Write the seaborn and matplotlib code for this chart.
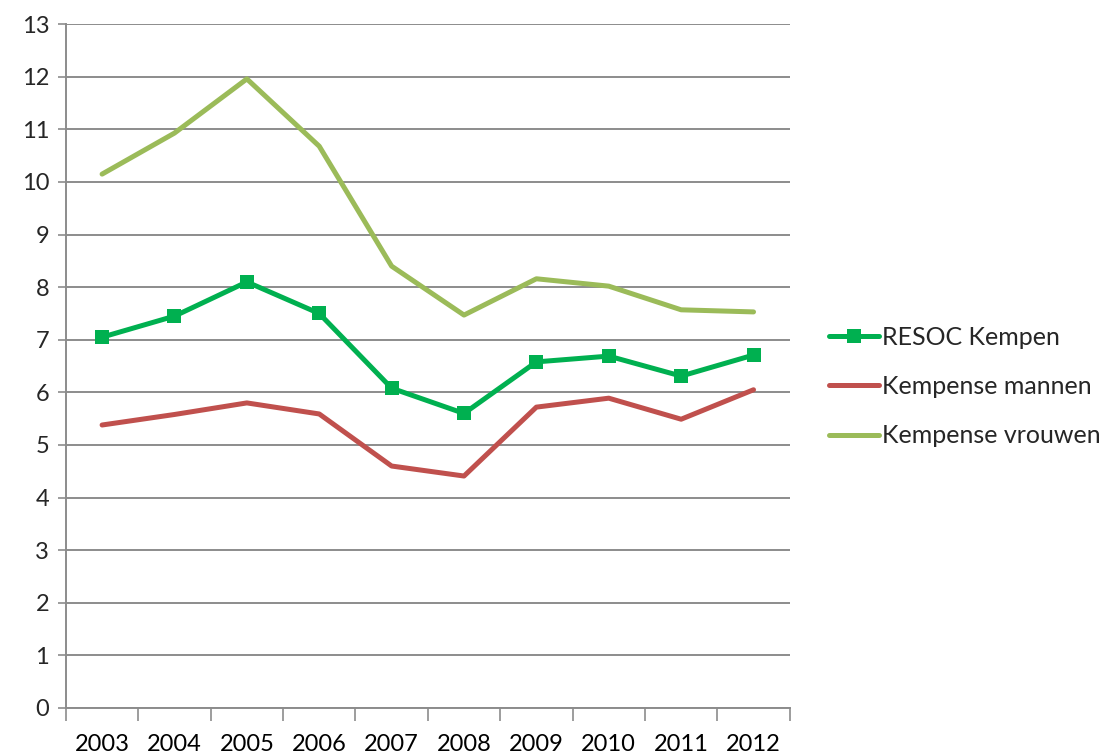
import numpy as np
import pandas as pd
import seaborn as sns
import matplotlib.pyplot as plt
from matplotlib.ticker import FixedLocator, MultipleLocator

years = ['2003', '2004', '2005', '2006', '2007', '2008', '2009', '2010', '2011', '2012']
resoc = [7.05, 7.45, 8.1, 7.5, 6.08, 5.6, 6.58, 6.69, 6.31, 6.71]
mannen = [5.38, 5.58, 5.8, 5.59, 4.6, 4.41, 5.72, 5.89, 5.49, 6.05]
vrouwen = [10.15, 10.93, 11.96, 10.68, 8.4, 7.47, 8.16, 8.02, 7.57, 7.53]

series = {
    'RESOC Kempen': resoc,
    'Kempense mannen': mannen,
    'Kempense vrouwen': vrouwen,
}
colors = {'RESOC Kempen': '#00B050', 'Kempense mannen': '#C0504D', 'Kempense vrouwen': '#9BBB59'}

rows = []
for name, vals in series.items():
    for i, v in enumerate(vals):
        rows.append({'pos': i, 'jaar': years[i], 'waarde': v, 'reeks': name})
df = pd.DataFrame(rows)

sns.set_style('white')
plt.rcParams['font.family'] = ['Lato', 'DejaVu Sans']

fig = plt.figure(figsize=(11.17, 7.56), dpi=100)
ax = fig.add_axes([0.059, 0.0635, 0.648, 0.9045])

for name in series:
    sub = df[df.reeks == name]
    sns.lineplot(data=sub, x='pos', y='waarde', ax=ax, color=colors[name], linewidth=3.6,
                 marker='s' if name == 'RESOC Kempen' else None, markersize=10.5,
                 markeredgewidth=0, label=name, zorder=3)

ax.set_xlim(-0.5, len(years) - 0.5)
ax.set_ylim(0, 13)
ax.yaxis.set_major_locator(MultipleLocator(1))
ax.grid(axis='y', color='#8c8c8c', linewidth=1.4)
ax.set_axisbelow(True)

ax.xaxis.set_major_locator(FixedLocator(range(len(years))))
ax.set_xticklabels(years)
ax.xaxis.set_minor_locator(FixedLocator(np.arange(-0.5, len(years), 1)))
ax.tick_params(axis='x', which='major', length=0, pad=19, labelsize=17, colors='black')
ax.tick_params(axis='x', which='minor', length=9, width=1.2, color='#8c8c8c', direction='out')
ax.tick_params(axis='y', length=6, width=1.2, color='#8c8c8c', labelsize=17, pad=6, direction='out')
ax.tick_params(bottom=True, left=True, which='both')

for side in ['top', 'right']:
    ax.spines[side].set_visible(False)
for side in ['left', 'bottom']:
    ax.spines[side].set_color('#8c8c8c')
    ax.spines[side].set_linewidth(1.4)

ax.set_xlabel('')
ax.set_ylabel('')

leg = ax.legend(loc='center left', bbox_to_anchor=(1.04, 0.47), frameon=False, fontsize=18,
                handlelength=2.0, handletextpad=0.15, labelspacing=1.05, borderaxespad=0)

fig.savefig('out.png', dpi=100)
